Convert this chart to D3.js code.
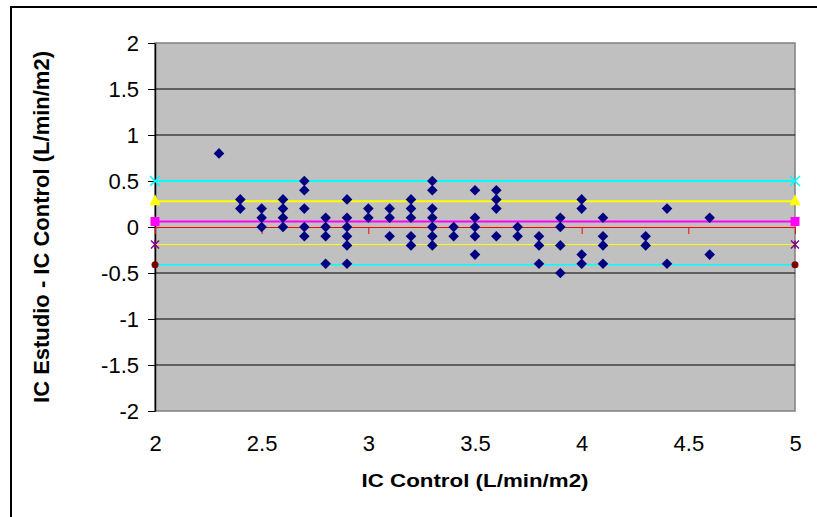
<!DOCTYPE html>
<html>
<head>
<meta charset="utf-8">
<script src="https://cdn.jsdelivr.net/npm/d3@7"></script>
<style>
    body { margin: 0; background: #fff; }
    svg { display: block; font-family: "Liberation Sans", Arial, sans-serif; }
</style>
</head>
<body>
<svg id="chart" width="817" height="517"></svg>
<script>
// Bland-Altman data: IC Control vs (IC Estudio - IC Control)
const icControl = [
    2.3,
    2.4, 2.4,
    2.5, 2.5, 2.5,
    2.6, 2.6, 2.6, 2.6,
    2.7, 2.7, 2.7, 2.7, 2.7,
    2.8, 2.8, 2.8, 2.8,
    2.9, 2.9, 2.9, 2.9, 2.9, 2.9,
    3.0, 3.0,
    3.1, 3.1, 3.1,
    3.2, 3.2, 3.2, 3.2, 3.2,
    3.3, 3.3, 3.3, 3.3, 3.3, 3.3, 3.3,
    3.4, 3.4,
    3.5, 3.5, 3.5, 3.5, 3.5,
    3.6, 3.6, 3.6, 3.6,
    3.7, 3.7,
    3.8, 3.8, 3.8,
    3.9, 3.9, 3.9, 3.9,
    4.0, 4.0, 4.0, 4.0,
    4.1, 4.1, 4.1, 4.1,
    4.3, 4.3,
    4.4, 4.4,
    4.6, 4.6
];
const icDiff = [
    0.8,
    0.3, 0.2,
    0.2, 0.1, 0,
    0.3, 0.2, 0.1, 0,
    0.5, 0.4, 0.2, 0, -0.1,
    0.1, 0, -0.1, -0.4,
    0.3, 0.1, 0, -0.1, -0.2, -0.4,
    0.2, 0.1,
    0.2, 0.1, -0.1,
    0.3, 0.2, 0.1, -0.1, -0.2,
    0.5, 0.4, 0.2, 0.1, 0, -0.1, -0.2,
    0, -0.1,
    0.4, 0.1, 0, -0.1, -0.3,
    0.4, 0.3, 0.2, -0.1,
    0, -0.1,
    -0.1, -0.2, -0.4,
    0.1, 0, -0.2, -0.5,
    0.3, 0.2, -0.3, -0.4,
    0.1, -0.1, -0.2, -0.4,
    -0.1, -0.2,
    0.2, -0.4,
    0.1, -0.3
];

// horizontal reference lines (mean, +/-1SD, +/-2SD)
const refLevels = [0.5, 0.28, 0.06, -0.19, -0.41];
const refColors = ['#00ffff', '#ffff00', '#ff00ff', '#ffff00', '#00ffff'];
const refMarkerColors = ['#00ffff', '#ffff00', '#ff00ff', '#800080', '#800000'];
const refMarkers = ['x', 'triangle', 'square', 'star', 'circle'];
const refWidths = [2, 2, 2, 1, 1.5];
const refEnds = [2, 5];

const xTicks = [2, 2.5, 3, 3.5, 4, 4.5, 5];
const yTicks = [2, 1.5, 1, 0.5, 0, -0.5, -1, -1.5, -2];

const svg = d3.select('#chart');
const x = d3.scaleLinear().domain([2, 5]).range([155, 795]);
const y = d3.scaleLinear().domain([-2, 2]).range([411, 43]);

// outer chart border
svg.append('rect')
    .attr('x', 11).attr('y', 7)
    .attr('width', 830).attr('height', 530)
    .attr('fill', 'none').attr('stroke', '#000').attr('stroke-width', 2);

// plot area
svg.append('rect')
    .attr('x', x(2)).attr('y', y(2))
    .attr('width', x(5) - x(2)).attr('height', y(-2) - y(2))
    .attr('fill', '#c0c0c0').attr('stroke', '#808080').attr('stroke-width', 1.5);

// gridlines
svg.append('g').selectAll('line')
    .data(yTicks.filter(d => d !== 0 && Math.abs(d) !== 2))
    .enter()
    .append('line')
    .attr('x1', x(2)).attr('x2', x(5))
    .attr('y1', d => y(d)).attr('y2', d => y(d))
    .attr('stroke', '#000').attr('stroke-width', 1);

// y axis
const yAxis = svg.append('g')
    .attr('transform', `translate(${x(2)},0)`)
    .call(d3.axisLeft(y).tickValues(yTicks).tickSize(7).tickSizeOuter(0).tickPadding(9).tickFormat(d => String(d)));
yAxis.select('.domain').attr('stroke', '#000').attr('stroke-width', 1.5);
yAxis.selectAll('text').attr('font-size', 22).attr('fill', '#000').attr('font-family', 'Liberation Sans, Arial, sans-serif');

// red x axis line at zero
const zeroAxis = svg.append('g')
    .attr('transform', `translate(0,${y(0)})`)
    .call(d3.axisBottom(x).tickValues(xTicks).tickSize(7).tickSizeOuter(0).tickFormat(''));
zeroAxis.select('.domain').attr('stroke', '#ff0000').attr('stroke-width', 1);
zeroAxis.selectAll('.tick line').attr('stroke', '#ff0000');

// x tick labels along the bottom
const xAxis = svg.append('g')
    .attr('transform', `translate(0,${y(-2)})`)
    .call(d3.axisBottom(x).tickValues(xTicks).tickSize(0).tickPadding(24).tickFormat(d => String(d)));
xAxis.select('.domain').remove();
xAxis.selectAll('text').attr('font-size', 22).attr('fill', '#000').attr('font-family', 'Liberation Sans, Arial, sans-serif');

// reference lines with end markers
refLevels.forEach((level, i) => {
    svg.append('line')
        .attr('x1', x(2)).attr('x2', x(5))
        .attr('y1', y(level)).attr('y2', y(level))
        .attr('stroke', refColors[i]).attr('stroke-width', refWidths[i]);

    refEnds.forEach(xv => {
        const cx = x(xv), cy = y(level);
        const c = refMarkerColors[i];
        if (refMarkers[i] === 'x' || refMarkers[i] === 'star') {
            const r = refMarkers[i] === 'x' ? 5 : 4;
            const g = svg.append('g').attr('stroke', c).attr('stroke-width', 1.5);
            g.append('line').attr('x1', cx - r).attr('y1', cy - r).attr('x2', cx + r).attr('y2', cy + r);
            g.append('line').attr('x1', cx - r).attr('y1', cy + r).attr('x2', cx + r).attr('y2', cy - r);
            if (refMarkers[i] === 'star') {
                g.append('line').attr('x1', cx).attr('y1', cy - r).attr('x2', cx).attr('y2', cy + r);
            }
        } else if (refMarkers[i] === 'triangle') {
            svg.append('path')
                .attr('d', `M${cx},${cy - 7}L${cx + 5.5},${cy + 4}L${cx - 5.5},${cy + 4}Z`)
                .attr('fill', c);
        } else if (refMarkers[i] === 'square') {
            svg.append('rect')
                .attr('x', cx - 4.5).attr('y', cy - 4.5)
                .attr('width', 9).attr('height', 9)
                .attr('fill', c);
        } else {
            svg.append('circle')
                .attr('cx', cx).attr('cy', cy).attr('r', 3.5)
                .attr('fill', c);
        }
    });
});

// scatter points (diamonds)
const diamond = d3.symbol().type(d3.symbolSquare).size(56);
svg.append('g').selectAll('path')
    .data(icControl.map((v, i) => [v, icDiff[i]]))
    .enter()
    .append('path')
    .attr('d', diamond)
    .attr('transform', d => `translate(${x(d[0])},${y(d[1])}) rotate(45)`)
    .attr('fill', '#000080');

// axis titles
svg.append('text')
    .attr('x', (x(2) + x(5)) / 2).attr('y', 487)
    .attr('text-anchor', 'middle')
    .attr('font-size', 19).attr('font-weight', 'bold')
    .attr('textLength', 227).attr('lengthAdjust', 'spacingAndGlyphs')
    .text('IC Control (L/min/m2)');

svg.append('text')
    .attr('transform', `translate(49,${(y(2) + y(-2)) / 2}) rotate(-90)`)
    .attr('text-anchor', 'middle')
    .attr('font-size', 22).attr('font-weight', 'bold')
    .text('IC Estudio - IC Control (L/min/m2)');
</script>
</body>
</html>
